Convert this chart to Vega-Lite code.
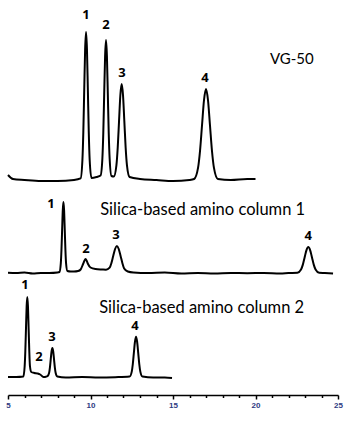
{
  "$schema": "https://vega.github.io/schema/vega-lite/v6.json",
  "width": 330,
  "height": 395,
  "autosize": {"type": "none"},
  "padding": {"left": 8, "top": 0, "right": 12, "bottom": 27},
  "background": "white",
  "config": {"view": {"stroke": null}},
  "datasets": {
    "traces": [
      {"trace": "VG-50", "t": 5.0, "y": 220}, {"trace": "VG-50", "t": 5.3, "y": 216}, {"trace": "VG-50", "t": 6.0, "y": 215}, {"trace": "VG-50", "t": 7.0, "y": 214}, {"trace": "VG-50", "t": 8.0, "y": 214}, {"trace": "VG-50", "t": 9.0, "y": 215},
      {"trace": "VG-50", "t": 9.40, "y": 216.6}, {"trace": "VG-50", "t": 9.51, "y": 235}, {"trace": "VG-50", "t": 9.565, "y": 263}, {"trace": "VG-50", "t": 9.62, "y": 305}, {"trace": "VG-50", "t": 9.675, "y": 346}, {"trace": "VG-50", "t": 9.73, "y": 363}, {"trace": "VG-50", "t": 9.785, "y": 346}, {"trace": "VG-50", "t": 9.84, "y": 305}, {"trace": "VG-50", "t": 9.895, "y": 263}, {"trace": "VG-50", "t": 9.95, "y": 235}, {"trace": "VG-50", "t": 10.06, "y": 217},
      {"trace": "VG-50", "t": 10.37, "y": 218},
      {"trace": "VG-50", "t": 10.61, "y": 219.5}, {"trace": "VG-50", "t": 10.72, "y": 236.5}, {"trace": "VG-50", "t": 10.775, "y": 262}, {"trace": "VG-50", "t": 10.83, "y": 301}, {"trace": "VG-50", "t": 10.885, "y": 339}, {"trace": "VG-50", "t": 10.94, "y": 355}, {"trace": "VG-50", "t": 10.995, "y": 339}, {"trace": "VG-50", "t": 11.05, "y": 301}, {"trace": "VG-50", "t": 11.105, "y": 262}, {"trace": "VG-50", "t": 11.16, "y": 236.5}, {"trace": "VG-50", "t": 11.27, "y": 219},
      {"trace": "VG-50", "t": 11.41, "y": 218.5}, {"trace": "VG-50", "t": 11.57, "y": 229.7}, {"trace": "VG-50", "t": 11.65, "y": 247.5}, {"trace": "VG-50", "t": 11.73, "y": 274}, {"trace": "VG-50", "t": 11.81, "y": 300}, {"trace": "VG-50", "t": 11.89, "y": 311}, {"trace": "VG-50", "t": 11.97, "y": 300}, {"trace": "VG-50", "t": 12.05, "y": 274}, {"trace": "VG-50", "t": 12.13, "y": 247.5}, {"trace": "VG-50", "t": 12.21, "y": 229.7}, {"trace": "VG-50", "t": 12.37, "y": 218},
      {"trace": "VG-50", "t": 13.0, "y": 216}, {"trace": "VG-50", "t": 14.0, "y": 215}, {"trace": "VG-50", "t": 15.0, "y": 214}, {"trace": "VG-50", "t": 16.0, "y": 215},
      {"trace": "VG-50", "t": 16.28, "y": 216}, {"trace": "VG-50", "t": 16.52, "y": 227.3}, {"trace": "VG-50", "t": 16.64, "y": 244.5}, {"trace": "VG-50", "t": 16.76, "y": 270}, {"trace": "VG-50", "t": 16.88, "y": 295}, {"trace": "VG-50", "t": 17.0, "y": 306}, {"trace": "VG-50", "t": 17.12, "y": 295}, {"trace": "VG-50", "t": 17.24, "y": 270}, {"trace": "VG-50", "t": 17.36, "y": 244.5}, {"trace": "VG-50", "t": 17.48, "y": 227.3}, {"trace": "VG-50", "t": 17.72, "y": 216},
      {"trace": "VG-50", "t": 18.5, "y": 215}, {"trace": "VG-50", "t": 19.5, "y": 216}, {"trace": "VG-50", "t": 20.0, "y": 216},

      {"trace": "col1", "t": 5.0, "y": 122.3}, {"trace": "col1", "t": 5.5, "y": 122}, {"trace": "col1", "t": 6.0, "y": 122.5}, {"trace": "col1", "t": 6.5, "y": 121.5}, {"trace": "col1", "t": 7.0, "y": 122}, {"trace": "col1", "t": 7.5, "y": 122}, {"trace": "col1", "t": 8.0, "y": 122.5},
      {"trace": "col1", "t": 8.12, "y": 123}, {"trace": "col1", "t": 8.20, "y": 131.6}, {"trace": "col1", "t": 8.24, "y": 145}, {"trace": "col1", "t": 8.28, "y": 165}, {"trace": "col1", "t": 8.32, "y": 184.7}, {"trace": "col1", "t": 8.36, "y": 193}, {"trace": "col1", "t": 8.40, "y": 184.7}, {"trace": "col1", "t": 8.44, "y": 165}, {"trace": "col1", "t": 8.48, "y": 145}, {"trace": "col1", "t": 8.52, "y": 131.6}, {"trace": "col1", "t": 8.60, "y": 124},
      {"trace": "col1", "t": 8.8, "y": 123.5}, {"trace": "col1", "t": 9.0, "y": 123.5},
      {"trace": "col1", "t": 9.25, "y": 124}, {"trace": "col1", "t": 9.40, "y": 125.5}, {"trace": "col1", "t": 9.55, "y": 131}, {"trace": "col1", "t": 9.625, "y": 134}, {"trace": "col1", "t": 9.70, "y": 136}, {"trace": "col1", "t": 9.775, "y": 134}, {"trace": "col1", "t": 9.85, "y": 131}, {"trace": "col1", "t": 10.0, "y": 127.5}, {"trace": "col1", "t": 10.3, "y": 126}, {"trace": "col1", "t": 10.7, "y": 125.5}, {"trace": "col1", "t": 10.94, "y": 125.3},
      {"trace": "col1", "t": 11.16, "y": 127.4}, {"trace": "col1", "t": 11.27, "y": 132.1}, {"trace": "col1", "t": 11.38, "y": 139.2}, {"trace": "col1", "t": 11.49, "y": 146}, {"trace": "col1", "t": 11.6, "y": 149}, {"trace": "col1", "t": 11.71, "y": 146}, {"trace": "col1", "t": 11.82, "y": 139.2}, {"trace": "col1", "t": 11.93, "y": 132.1}, {"trace": "col1", "t": 12.04, "y": 126.5}, {"trace": "col1", "t": 12.26, "y": 123.5}, {"trace": "col1", "t": 12.6, "y": 122.5},
      {"trace": "col1", "t": 13.5, "y": 122}, {"trace": "col1", "t": 14.5, "y": 122.5}, {"trace": "col1", "t": 15.5, "y": 121.5}, {"trace": "col1", "t": 16.5, "y": 122}, {"trace": "col1", "t": 17.5, "y": 121.5}, {"trace": "col1", "t": 18.5, "y": 122}, {"trace": "col1", "t": 19.5, "y": 121.8}, {"trace": "col1", "t": 20.5, "y": 122}, {"trace": "col1", "t": 21.5, "y": 121.5}, {"trace": "col1", "t": 22.0, "y": 122},
      {"trace": "col1", "t": 22.54, "y": 122.3}, {"trace": "col1", "t": 22.76, "y": 125.5}, {"trace": "col1", "t": 22.87, "y": 130.4}, {"trace": "col1", "t": 22.98, "y": 137.8}, {"trace": "col1", "t": 23.09, "y": 144.9}, {"trace": "col1", "t": 23.2, "y": 148}, {"trace": "col1", "t": 23.31, "y": 144.9}, {"trace": "col1", "t": 23.42, "y": 137.8}, {"trace": "col1", "t": 23.53, "y": 130.4}, {"trace": "col1", "t": 23.64, "y": 125.5}, {"trace": "col1", "t": 23.86, "y": 122.3},
      {"trace": "col1", "t": 24.2, "y": 122}, {"trace": "col1", "t": 24.7, "y": 121.5},

      {"trace": "col2", "t": 5.0, "y": 18}, {"trace": "col2", "t": 5.5, "y": 18},
      {"trace": "col2", "t": 5.93, "y": 18.5}, {"trace": "col2", "t": 6.01, "y": 28.8}, {"trace": "col2", "t": 6.05, "y": 44}, {"trace": "col2", "t": 6.09, "y": 66.5}, {"trace": "col2", "t": 6.13, "y": 88.6}, {"trace": "col2", "t": 6.17, "y": 98}, {"trace": "col2", "t": 6.21, "y": 88.6}, {"trace": "col2", "t": 6.25, "y": 66.5}, {"trace": "col2", "t": 6.29, "y": 44}, {"trace": "col2", "t": 6.33, "y": 29}, {"trace": "col2", "t": 6.41, "y": 23},
      {"trace": "col2", "t": 6.6, "y": 22}, {"trace": "col2", "t": 6.8, "y": 21.5}, {"trace": "col2", "t": 6.95, "y": 20.5}, {"trace": "col2", "t": 7.15, "y": 18}, {"trace": "col2", "t": 7.3, "y": 18.3},
      {"trace": "col2", "t": 7.39, "y": 18.8}, {"trace": "col2", "t": 7.49, "y": 22}, {"trace": "col2", "t": 7.54, "y": 27.4}, {"trace": "col2", "t": 7.59, "y": 35.6}, {"trace": "col2", "t": 7.64, "y": 43.6}, {"trace": "col2", "t": 7.69, "y": 47}, {"trace": "col2", "t": 7.74, "y": 43.6}, {"trace": "col2", "t": 7.79, "y": 35.6}, {"trace": "col2", "t": 7.84, "y": 27.4}, {"trace": "col2", "t": 7.89, "y": 22}, {"trace": "col2", "t": 7.99, "y": 18.5},
      {"trace": "col2", "t": 8.5, "y": 17.5}, {"trace": "col2", "t": 9.5, "y": 18}, {"trace": "col2", "t": 10.5, "y": 17.5}, {"trace": "col2", "t": 11.5, "y": 17.8},
      {"trace": "col2", "t": 12.37, "y": 18.4}, {"trace": "col2", "t": 12.50, "y": 23.4}, {"trace": "col2", "t": 12.565, "y": 31}, {"trace": "col2", "t": 12.63, "y": 42.4}, {"trace": "col2", "t": 12.695, "y": 53.3}, {"trace": "col2", "t": 12.76, "y": 58.3}, {"trace": "col2", "t": 12.825, "y": 53.3}, {"trace": "col2", "t": 12.89, "y": 42.4}, {"trace": "col2", "t": 12.955, "y": 31}, {"trace": "col2", "t": 13.02, "y": 23.4}, {"trace": "col2", "t": 13.15, "y": 18.4},
      {"trace": "col2", "t": 13.8, "y": 17.5}, {"trace": "col2", "t": 14.5, "y": 17.5}, {"trace": "col2", "t": 14.94, "y": 17}
    ],
    "peaks": [
      {"t": 9.73, "y": 380, "label": "1"}, {"t": 10.94, "y": 370, "label": "2"}, {"t": 11.9, "y": 322, "label": "3"}, {"t": 16.94, "y": 317, "label": "4"},
      {"t": 7.6, "y": 191, "label": "1"}, {"t": 9.73, "y": 146, "label": "2"}, {"t": 11.55, "y": 160, "label": "3"}, {"t": 23.2, "y": 159, "label": "4"},
      {"t": 6.03, "y": 110, "label": "1"}, {"t": 6.88, "y": 38, "label": "2"}, {"t": 7.67, "y": 58, "label": "3"}, {"t": 12.7, "y": 69, "label": "4"}
    ],
    "titles": [
      {"t": 22.2, "y": 336, "label": "VG-50", "size": 15},
      {"t": 16.8, "y": 185, "label": "Silica-based amino column 1", "size": 16.5},
      {"t": 16.74, "y": 87, "label": "Silica-based amino column 2", "size": 16.5}
    ]
  },
  "layer": [
    {
      "data": {"name": "traces"},
      "mark": {"type": "line", "interpolate": "monotone", "color": "black", "strokeWidth": 2, "clip": false},
      "encoding": {
        "x": {"field": "t", "type": "quantitative", "scale": {"domain": [5, 25], "nice": false},
          "axis": {"title": null, "tickCount": 20,
            "labelExpr": "datum.value % 5 === 0 ? datum.label : ''",
            "labelOverlap": false,
            "domainColor": "black", "domainWidth": 1.5, "tickColor": "black", "tickWidth": 1.5,
            "tickSize": {"condition": {"test": "datum.value % 5 === 0", "value": 4}, "value": 2.5},
            "labelFont": "Liberation Sans", "labelFontSize": 8, "labelFontWeight": "bold", "labelColor": "#2e3a82",
            "labelPadding": 2, "grid": false, "labelFlush": false}},
        "y": {"field": "y", "type": "quantitative", "scale": {"domain": [0, 395], "nice": false, "zero": false}, "axis": null},
        "detail": {"field": "trace"}
      }
    },
    {
      "data": {"name": "peaks"},
      "mark": {"type": "text", "font": "Open Sans", "fontSize": 13, "fontWeight": "bold", "color": "black", "baseline": "middle", "align": "center"},
      "encoding": {
        "x": {"field": "t", "type": "quantitative"},
        "y": {"field": "y", "type": "quantitative"},
        "text": {"field": "label"}
      }
    },
    {
      "data": {"name": "titles"},
      "mark": {"type": "text", "font": "Lato", "color": "black", "baseline": "middle", "align": "center"},
      "encoding": {
        "x": {"field": "t", "type": "quantitative"},
        "y": {"field": "y", "type": "quantitative"},
        "text": {"field": "label"},
        "size": {"field": "size", "type": "quantitative", "scale": null}
      }
    }
  ]
}
